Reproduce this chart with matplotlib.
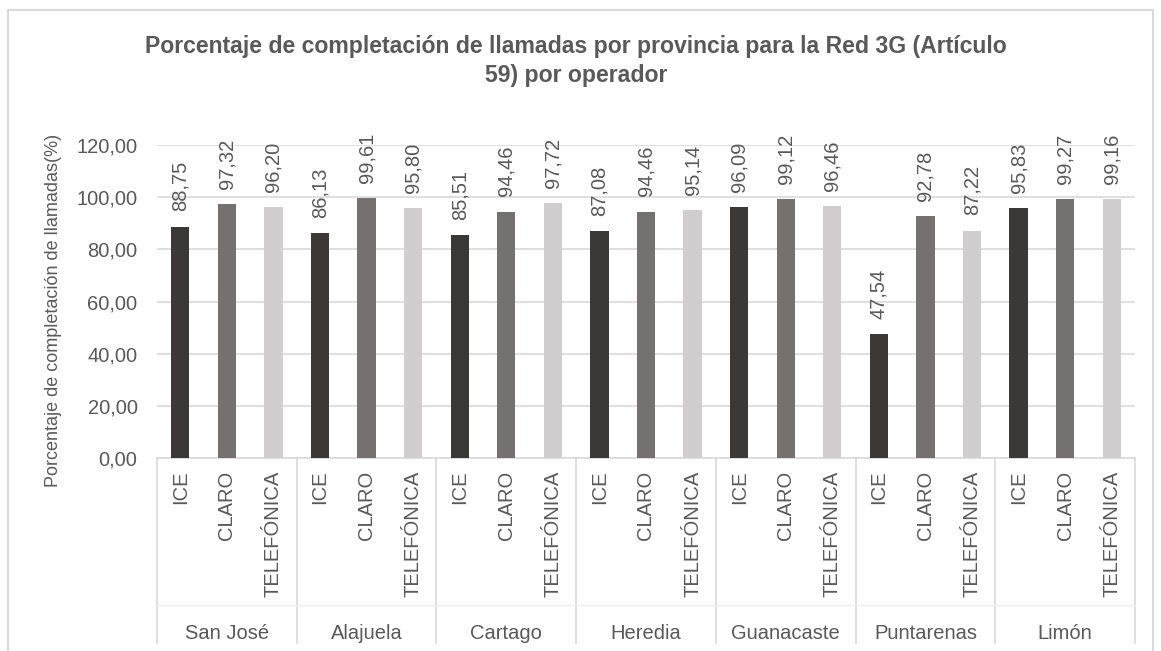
import matplotlib.pyplot as plt
from matplotlib.lines import Line2D
import matplotlib.transforms as mtransforms

plt.rcParams['font.family'] = ['Liberation Sans', 'DejaVu Sans']

provincias = ['San José', 'Alajuela', 'Cartago', 'Heredia', 'Guanacaste', 'Puntarenas', 'Limón']
operadores = ['ICE', 'CLARO', 'TELEFÓNICA']
ice = [88.75, 86.13, 85.51, 87.08, 96.09, 47.54, 95.83]
claro = [97.32, 99.61, 94.46, 94.46, 99.12, 92.78, 99.27]
telefonica = [96.20, 95.80, 97.72, 95.14, 96.46, 87.22, 99.16]
yticks = [0, 20, 40, 60, 80, 100, 120]

colores = ['#3b3838', '#767171', '#d0cece']
gris = '#595959'
linea = '#d9d9d9'

fig = plt.figure(figsize=(11.61, 6.51), dpi=100)
ax = fig.add_axes([157 / 1161, 1 - 458 / 651, (1135 - 157) / 1161, 313 / 651])

series = [ice, claro, telefonica]
for j, vals in enumerate(series):
    xs = [g * 3 + j for g in range(len(provincias))]
    bars = ax.bar(xs, vals, width=0.39, color=colores[j], zorder=3)
    for b, v in zip(bars, vals):
        ax.annotate(f'{v:.2f}'.replace('.', ','), (b.get_x() + b.get_width() / 2, v),
                    xytext=(0, 11), textcoords='offset points', rotation=90,
                    ha='center', va='bottom', fontsize=14.5, color=gris)

ticks = []
ticklabels = []
for g in range(len(provincias)):
    for j, op in enumerate(operadores):
        ticks.append(g * 3 + j)
        ticklabels.append(op)
ax.set_xticks(ticks)
ax.set_xticklabels(ticklabels, rotation=90, va='top', fontsize=14.5, color=gris)
ax.tick_params(axis='x', length=0, pad=9)

ax.set_xlim(-0.5, len(provincias) * 3 - 0.5)
ax.set_ylim(0, 120)
ax.set_yticks(yticks)
ax.set_yticklabels([f'{t:.2f}'.replace('.', ',') for t in yticks], fontsize=14.5, color=gris)
ax.tick_params(axis='y', length=0, pad=14)
ax.grid(axis='y', color=linea, linewidth=1.2, zorder=0)
for s in ['top', 'right', 'left']:
    ax.spines[s].set_visible(False)
ax.spines['bottom'].set_color(linea)
ax.spines['bottom'].set_linewidth(1.2)

ax.set_ylabel('Porcentaje de completación de llamadas(%)', fontsize=13, color=gris)
ax.yaxis.set_label_coords(-0.097, 0.473)

trans = mtransforms.blended_transform_factory(ax.transData, ax.transAxes)
for g in range(len(provincias) + 1):
    ax.add_line(Line2D([g * 3 - 0.5, g * 3 - 0.5], [0, -0.59], transform=trans,
                       color=linea, linewidth=1.2, clip_on=False))
for g, p in enumerate(provincias):
    ax.text(g * 3 + 1, -0.56, p, transform=trans, ha='center', va='center',
            fontsize=14.5, color=gris)
ax.add_line(Line2D([-0.5, len(provincias) * 3 - 0.5], [-0.47, -0.47], transform=trans,
                   color='#efefef', linewidth=1, clip_on=False))

fig.suptitle('Porcentaje de completación de llamadas por provincia para la Red 3G (Artículo\n59) por operador',
             x=0.496, y=0.946, fontsize=16.6, fontweight='bold', color=gris, linespacing=1.3)

# marco del gráfico
fig.add_artist(Line2D([8 / 1161, 8 / 1161, 1153 / 1161, 1153 / 1161], [-0.01, 1 - 10 / 651, 1 - 10 / 651, -0.01],
                      transform=fig.transFigure, color=linea, linewidth=1.5))

fig.savefig('out.png', dpi=100)
